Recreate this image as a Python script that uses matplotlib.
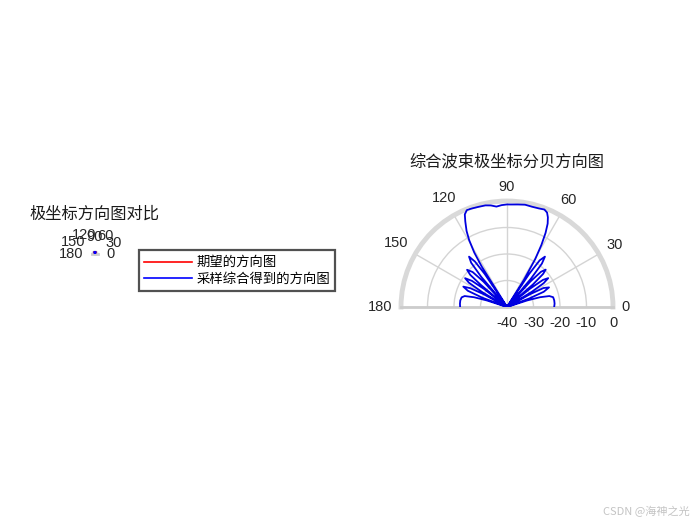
import numpy as np
import matplotlib
matplotlib.use('Agg')
import matplotlib.pyplot as plt
from matplotlib.transforms import ScaledTranslation

# ---------------- data ----------------
theta_deg = [
    0, 4, 8, 12, 14.5, 16.5, 18, 19.5,
    21, 22.5, 25, 27.5, 29, 30,
    31.5, 33, 35, 37, 38.5, 39.5,
    41, 42.5, 44, 46, 47.5, 48.5,
    49.8, 51.2, 53, 55, 56.2, 57,
    58, 59.5, 61, 62.5, 64, 65.5, 67, 69, 72, 76, 80, 84, 88, 90,
    93, 96, 99, 102, 106, 110, 112.5, 114.5, 116, 118, 119.5, 121, 122, 123,
    124, 125.2, 127, 129, 130.5, 131.5,
    132.8, 134.5, 137, 138.8, 139.8, 140.5,
    141.8, 143.3, 145.5, 147.5, 149, 150,
    151.3, 152.8, 155, 157.5, 159.3, 160.5,
    162, 163.5, 165.5, 168, 172, 176, 180,
]
gain_db = [
    -22.2, -22.0, -22.0, -22.2, -23.5, -27, -32, -40,
    -31, -25, -22.5, -24.5, -30, -40,
    -29, -23.5, -21, -23, -29, -40,
    -27, -21.5, -19.7, -21.5, -27, -40,
    -26, -19, -16.2, -18.5, -25, -40,
    -28, -19, -13.2, -8.5, -5.0, -2.8, -1.3, -0.6, -0.9, -1.0, -0.8, -1.1, -1.3, -1.3,
    -1.5, -1.9, -1.2, -0.8, -0.7, -0.5, -0.4, -1.6, -4.1, -7.5, -11, -16, -22, -40,
    -25, -19, -16.2, -18.5, -25, -40,
    -27, -21.5, -19.4, -21.5, -27, -40,
    -29, -23.5, -20.8, -23, -29, -40,
    -30, -24.5, -21.8, -24, -30, -40,
    -32, -27, -23.5, -22.5, -22.2, -22.2, -22.3,
]
desired_theta_deg = [0, 60, 60, 120, 120, 180]
desired_mag = [0, 0, 1, 1, 0, 0]

theta_ticks = [0, 30, 60, 90, 120, 150, 180]
r_ticks = [-40, -30, -20, -10, 0]
legend_labels = ['期望的方向图', '采样综合得到的方向图']
titles = ['极坐标方向图对比', '综合波束极坐标分贝方向图']
watermark = 'CSDN @海神之光'

# ---------------- figure ----------------
W, H = 700, 525
DPI = 100
fig = plt.figure(figsize=(7, 5.25), dpi=DPI)
cjk = ['Noto Sans CJK SC', 'DejaVu Sans']
num = ['Liberation Sans', 'DejaVu Sans']
grid_c = '#d4d4d4'
tick_fs = 10.5


def px_axes(cx, cy, r):
    # square box; the half-disk is centred vertically inside it
    bottom_px = cy + 0.5 * r
    return [(cx - r) / W, (H - bottom_px) / H, 2 * r / W, 2 * r / H]


def style_polar(ax):
    ax.set_thetamin(0)
    ax.set_thetamax(180)
    ax.set_thetagrids(theta_ticks, [''] * len(theta_ticks))
    ax.set_yticklabels([])
    ax.grid(True, color=grid_c, linewidth=1.0)
    ax.spines['polar'].set_color('#d9d9d9')
    ax.spines['polar'].set_linewidth(3.5)
    for s in ('start', 'end'):
        ax.spines[s].set_color('#cccccc')
        ax.spines[s].set_linewidth(2)
    ax.spines['inner'].set_visible(False)


def theta_labels(ax, rmax, gap=8.5):
    fs_px = tick_fs * DPI / 72
    for t in theta_ticks:
        a = np.deg2rad(t)
        s = str(t)
        w = 0.556 * fs_px * len(s)
        h = 0.75 * fs_px
        d = gap + abs(np.cos(a)) * w / 2 + abs(np.sin(a)) * h / 2
        off = ScaledTranslation(d * np.cos(a) / DPI, d * np.sin(a) / DPI,
                                fig.dpi_scale_trans)
        ax.text(a, rmax, s, transform=ax.transData + off, ha='center', va='center',
                fontfamily=num, fontsize=tick_fs, color='#262626')


# left: tiny linear polar plot
ax1 = fig.add_axes(px_axes(95, 254, 3), projection='polar')
style_polar(ax1)
ax1.set_rlim(0, 1)
ax1.set_rticks([0.5, 1])
ax1.set_yticklabels([])
ax1.spines['polar'].set_linewidth(0.8)
ax1.grid(False)
lin = [10 ** (g / 20) for g in gain_db]
l_red, = ax1.plot(np.deg2rad(desired_theta_deg), desired_mag, color='red', lw=1.2, zorder=3)
l_blue, = ax1.plot(np.deg2rad(theta_deg), lin, color='blue', lw=1.2, zorder=3)
theta_labels(ax1, 1)

# right: dB polar plot
ax2 = fig.add_axes(px_axes(507, 307, 106), projection='polar')
style_polar(ax2)
ax2.set_rlim(-40, 0)
ax2.set_rticks(r_ticks)
ax2.set_yticklabels([])
ax2.plot(np.deg2rad(theta_deg), gain_db, color='#0000e0', lw=1.3, zorder=3)
theta_labels(ax2, 0)
off = ScaledTranslation(0, -16 / DPI, fig.dpi_scale_trans)
for r in r_ticks:
    ax2.text(0, r, str(r), transform=ax2.transData + off, ha='center', va='center',
             fontfamily=num, fontsize=tick_fs, color='#262626')

# titles
fig.text(95 / W, 1 - 214 / H, titles[0], ha='center', va='center',
         fontfamily=cjk, fontsize=11.7, color='#1a1a1a')
fig.text(507 / W, 1 - 162 / H, titles[1], ha='center', va='center',
         fontfamily=cjk, fontsize=11.7, color='#1a1a1a')

# legend
leg = fig.legend([l_red, l_blue], legend_labels, loc='upper left',
                 bbox_to_anchor=(139 / W, 1 - 250 / H), bbox_transform=fig.transFigure,
                 prop={'family': cjk, 'size': 9.6}, frameon=True, fancybox=False,
                 edgecolor='#262626', borderaxespad=0, handlelength=3.6,
                 handletextpad=0.3, borderpad=0.4, labelspacing=0.18)
leg.get_frame().set_linewidth(1.6)

fig.text(1 - 10 / W, 1 - 512 / H, watermark, ha='right', va='center',
         fontfamily=cjk, fontsize=8, color='#c4c4c4')

fig.savefig('out.png', dpi=DPI)
